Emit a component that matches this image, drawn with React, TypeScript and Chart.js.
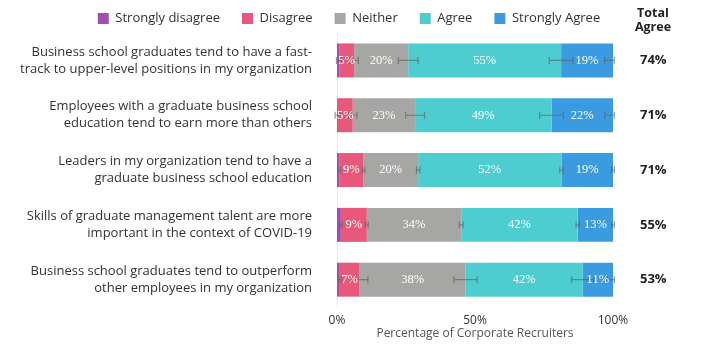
import React, { useEffect, useRef } from "react";
import { Chart, registerables } from "chart.js";

Chart.register(...registerables);

const categories: string[][] = [
  ["Business school graduates tend to have a fast-", "track to upper-level positions in my organization"],
  ["Employees with a graduate business school", "education tend to earn more than others"],
  ["Leaders in my organization tend to have a", "graduate business school education"],
  ["Skills of graduate management talent are more", "important in the context of COVID-19"],
  ["Business school graduates tend to outperform", "other employees in my organization"],
];

const seriesNames = ["Strongly disagree", "Disagree", "Neither", "Agree", "Strongly Agree"];
const seriesColors = ["#a64bb3", "#e8587a", "#a6a6a4", "#4ecdd0", "#3b9be0"];

const stronglyDisagree = [0.8, 0.3, 0.8, 1.4, 1.0];
const disagree = [5.4, 5.4, 8.8, 9.4, 7.2];
const neither = [19.6, 22.6, 19.8, 34.2, 38.4];
const agree = [55.4, 49.4, 51.9, 42.2, 42.4];
const stronglyAgree = [18.8, 22.3, 18.7, 12.8, 11.0];

const errStronglyDisagree = [1.0, 1.0, 0.5, 0.5, 0.5];
const errDisagree = [1.5, 1.5, 0.5, 0.5, 3.0];
const errNeither = [3.6, 3.4, 0.6, 0.7, 4.2];
const errAgree = [4.3, 4.3, 0.6, 0.6, 4.0];
const errStronglyAgree = [3.0, 3.0, 0.5, 0.5, 2.0];

const totalAgree = ["74%", "71%", "71%", "55%", "53%"];
const xTicks = [0, 50, 100];

const seriesData = [stronglyDisagree, disagree, neither, agree, stronglyAgree];
const seriesErr = [errStronglyDisagree, errDisagree, errNeither, errAgree, errStronglyAgree];

const FONT = "'Open Sans', sans-serif";

const overlayPlugin = {
  id: "overlay",
  afterDatasetsDraw(chart: any) {
    const ctx = chart.ctx;
    const xs = chart.scales.x;
    ctx.save();
    // error whiskers at cumulative segment ends
    ctx.strokeStyle = "rgba(95,95,95,0.65)";
    ctx.lineWidth = 1.2;
    seriesData.forEach((arr, i) => {
      const meta = chart.getDatasetMeta(i);
      arr.forEach((_, j) => {
        let cum = 0;
        for (let k = 0; k <= i; k++) cum += seriesData[k][j];
        const e = seriesErr[i][j];
        if (!e) return;
        const y = meta.data[j].y;
        const x1 = xs.getPixelForValue(cum - e);
        const x2 = xs.getPixelForValue(Math.min(cum + e, 100.5));
        ctx.beginPath();
        ctx.moveTo(x1, y);
        ctx.lineTo(x2, y);
        ctx.moveTo(x1, y - 3.5);
        ctx.lineTo(x1, y + 3.5);
        ctx.moveTo(x2, y - 3.5);
        ctx.lineTo(x2, y + 3.5);
        ctx.stroke();
      });
    });
    // value labels
    ctx.fillStyle = "#ffffff";
    ctx.font = "12.5px 'Liberation Serif', serif";
    ctx.textAlign = "center";
    ctx.textBaseline = "middle";
    seriesData.forEach((arr, i) => {
      const meta = chart.getDatasetMeta(i);
      arr.forEach((v, j) => {
        if (v < 3) return;
        const p = meta.data[j].getCenterPoint();
        ctx.fillText(Math.round(v) + "%", p.x, p.y);
      });
    });
    // header of total column
    ctx.fillStyle = "#222222";
    ctx.font = `bold 12.5px ${FONT}`;
    const cx = chart.chartArea.right + 40;
    ctx.fillText("Total", cx, 23);
    ctx.fillText("Agree", cx, 37);
    ctx.restore();
  },
};

export default function App() {
  const ref = useRef<HTMLCanvasElement | null>(null);
  useEffect(() => {
    if (!ref.current) return;
    const chart = new Chart(ref.current, {
      type: "bar",
      data: {
        labels: categories,
        datasets: seriesNames.map((name, i) => ({
          label: name,
          data: seriesData[i],
          backgroundColor: seriesColors[i],
          borderWidth: 0,
          categoryPercentage: 1,
          barPercentage: 0.62,
        })),
      },
      options: {
        indexAxis: "y",
        animation: false,
        responsive: true,
        maintainAspectRatio: false,
        layout: { padding: { top: 0, right: 22, bottom: 0, left: 0 } },
        plugins: {
          legend: {
            position: "top",
            align: "center",
            maxHeight: 43,
            labels: {
              boxWidth: 11,
              boxHeight: 11,
              padding: 22,
              color: "#333333",
              font: { family: FONT, size: 13 },
            },
          },
          tooltip: { enabled: false },
        },
        scales: {
          x: {
            stacked: true,
            min: 0,
            max: 100,
            afterBuildTicks: (s: any) => {
              s.ticks = xTicks.map((v) => ({ value: v }));
            },
            ticks: {
              padding: 6,
              color: "#333333",
              font: { family: FONT, size: 12 },
              callback: (v: any) => v + "%",
            },
            grid: { display: false, drawTicks: false },
            border: { display: false },
            title: {
              display: true,
              text: "Percentage of Corporate Recruiters",
              color: "#555555",
              font: { family: FONT, size: 12 },
              padding: { top: -7, bottom: 0 },
            },
          },
          y: {
            stacked: true,
            afterFit: (s: any) => {
              s.width = 329;
            },
            ticks: {
              padding: 25,
              color: "#333333",
              font: { family: FONT, size: 13, lineHeight: 1.3 },
            },
            grid: { display: false, drawTicks: false },
            border: { display: true, color: "#ececec" },
          },
          yR: {
            type: "category",
            position: "right",
            labels: totalAgree,
            offset: true,
            afterFit: (s: any) => {
              s.width = 77;
            },
            ticks: {
              crossAlign: "center",
              padding: 27,
              color: "#222222",
              font: { family: FONT, size: 13, weight: "bold" },
            },
            grid: { display: false, drawTicks: false },
            border: { display: false },
          },
        },
      },
      plugins: [overlayPlugin],
    });
    return () => chart.destroy();
  }, []);
  return (
    <div style={{ position: "relative", width: 704, height: 359, marginTop: -18, marginBottom: -6 }}>
      <canvas ref={ref} />
    </div>
  );
}
